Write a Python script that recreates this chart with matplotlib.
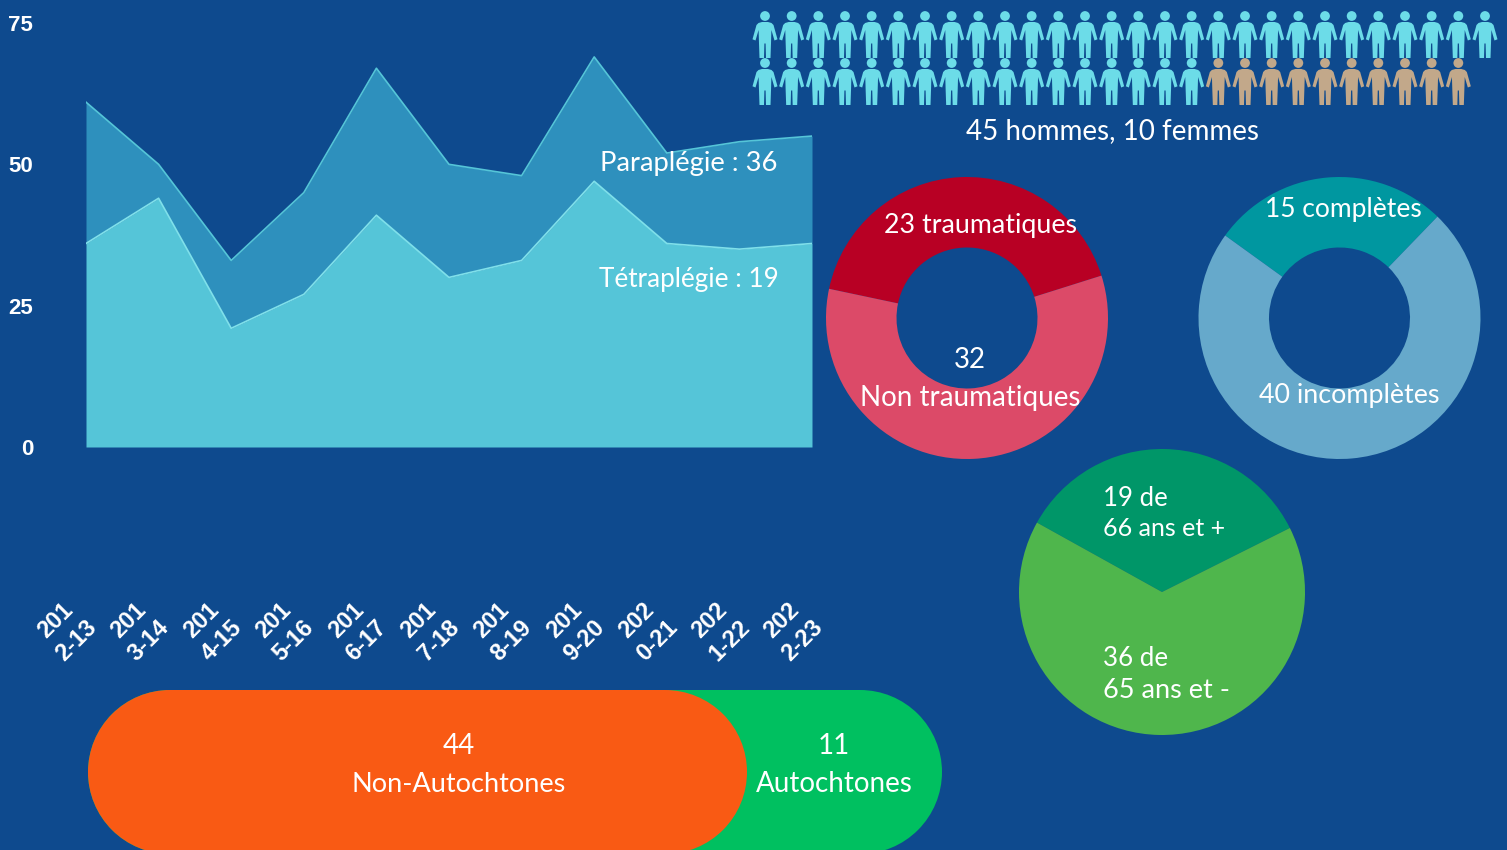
import numpy as np
import matplotlib
matplotlib.use('Agg')
import matplotlib.pyplot as plt
from matplotlib.patches import Circle, Rectangle
from matplotlib.path import Path
from matplotlib.transforms import ScaledTranslation

W, H = 1507, 850
BG = '#0e4a8e'

saisons = ['201\n2-13', '201\n3-14', '201\n4-15', '201\n5-16', '201\n6-17', '201\n7-18',
           '201\n8-19', '201\n9-20', '202\n0-21', '202\n1-22', '202\n2-23']
tetraplegie = [36, 44, 21, 27, 41, 30, 33, 47, 36, 35, 36]
paraplegie = [25, 6, 12, 18, 26, 20, 15, 22, 16, 19, 19]
y_ticks = [0, 25, 50, 75]

hommes = 45
femmes = 10
personnes_rang1 = 28

origine = [23, 32]
atteinte = [15, 40]
age = [19, 36]
autochtones = [44, 11]

plt.rcParams['font.family'] = ['Lato', 'DejaVu Sans']

fig = plt.figure(figsize=(W / 100, H / 100), dpi=100, facecolor=BG)


def axes_px(x0, y0, x1, y1):
    ax = fig.add_axes([x0 / W, 1 - y1 / H, (x1 - x0) / W, (y1 - y0) / H])
    ax.patch.set_alpha(0)
    return ax


def label(x, y, s, size=20, ha='center'):
    fig.text(x / W, 1 - (y + 2) / H, s, color='white', fontsize=size, ha=ha, va='center', zorder=10)


# aires empilees
ax = axes_px(86, 23, 812, 447)
x = np.arange(len(saisons))
total = np.array(tetraplegie) + np.array(paraplegie)
ax.fill_between(x, tetraplegie, total, color='#2e90bd', lw=0)
ax.fill_between(x, 0, tetraplegie, color='#55c5d8', lw=0)
ax.plot(x, total, color='#55c5d8', lw=1.2)
ax.plot(x, tetraplegie, color='#7fe0ea', lw=1.2)
ax.set_xlim(0, len(saisons) - 1)
ax.set_ylim(0, 75)
for s in ax.spines.values():
    s.set_visible(False)
ax.set_yticks(y_ticks)
ax.set_xticks(x, saisons, rotation=45, ha='center', va='center', linespacing=1.3)
ax.tick_params(axis='y', length=0, pad=38, labelcolor='white')
ax.tick_params(axis='x', length=0, pad=132, labelcolor='white')
for t in ax.get_yticklabels():
    t.set_fontfamily('Liberation Sans')
    t.set_fontweight('bold')
    t.set_fontsize(16)
decal = ScaledTranslation(-20 / 100, 0, fig.dpi_scale_trans)
for t in ax.get_xticklabels():
    t.set_fontfamily('Liberation Sans')
    t.set_fontweight('bold')
    t.set_fontsize(17)
    t.set_transform(t.get_transform() + decal)

# pictogrammes
demi = [(0, 12.5), (3, 12.5), (6.5, 11.5), (8.5, 9.5), (12.5, -4.8), (9.5, -6), (6.4, 4.5), (6, -9),
        (5.5, -23.5), (1, -23.5), (0.6, -9)]
corps = demi + [(-a, b) for a, b in demi[::-1][:-1]] + [demi[0]]
tete = Path.circle((0, 18.5), 4.9)
perso = Path.make_compound_path(Path(corps, closed=True), tete)

ax = axes_px(765, 11, 1485, 105)
n = hommes + femmes
idx = np.arange(n)
rang = idx // personnes_rang1
col = idx % personnes_rang1
couleurs = ['#6cdce8'] * hommes + ['#c2a88a'] * femmes
ax.scatter(col, rang, marker=perso, s=1145, c=couleurs, linewidths=0, clip_on=False)
ax.set_xlim(0, personnes_rang1 - 1)
ax.set_ylim(1.5, -0.5)
ax.axis('off')


def camembert(cx, cy, r, valeurs, couleurs, depart, largeur=None):
    ax = axes_px(cx - r, cy - r, cx + r, cy + r)
    props = {'linewidth': 0}
    if largeur:
        props['width'] = largeur
    ax.pie(valeurs, colors=couleurs, startangle=depart, radius=1, wedgeprops=props)
    ax.set_xlim(-1, 1)
    ax.set_ylim(-1, 1)


camembert(967, 318, 141, origine, ['#b80024', '#dc4a68'], 17.5, 0.5)
camembert(1339.5, 318, 141, atteinte, ['#0097a0', '#66a9cb'], 46, 0.5)
camembert(1162, 592, 143, age, ['#009668', '#4fb64c'], 26.6)

# barre arrondie
echelle = 195 / autochtones[1]
debut = (88 + 33) / echelle
ax = axes_px(-33, 690, 942, 854)
ax.set_xlim(0, sum(autochtones))
haut = 164 / echelle
ax.set_ylim(0, haut)
ax.axis('off')
rayon = haut / 2
for fin, c in [(sum(autochtones), '#00c060'), (autochtones[0], '#f95a14')]:
    ax.add_patch(Rectangle((debut + rayon, 0), fin - debut - 2 * rayon, haut, linewidth=0, facecolor=c))
    ax.add_patch(Circle((debut + rayon, rayon), rayon, linewidth=0, facecolor=c))
    ax.add_patch(Circle((fin - rayon, rayon), rayon, linewidth=0, facecolor=c))

label(1113, 129, f'{hommes} hommes, {femmes} femmes', 20)
label(689, 161, f'Paraplégie : {tetraplegie[-1]}', 19.7)
label(689, 277, f'Tétraplégie : {paraplegie[-1]}', 18.8)
label(980, 224, f'{origine[0]} traumatiques', 19.3)
label(970, 358, f'{origine[1]}')
label(970, 396, 'Non traumatiques')
label(1343, 207, f'{atteinte[0]} complètes', 19)
label(1349, 393, f'{atteinte[1]} incomplètes', 19.4)
label(1103, 496, f'{age[0]} de', 18.5, ha='left')
label(1103, 526, '66 ans et +', 18, ha='left')
label(1103, 657, f'{age[1]} de', 18.6, ha='left')
label(1103, 688, '65 ans et -', 19.5, ha='left')
label(459, 744, f'{autochtones[0]}')
label(459, 782, 'Non-Autochtones', 19.5)
label(834, 744, f'{autochtones[1]}')
label(834, 782, 'Autochtones')

fig.savefig('out.png', dpi=100, facecolor=BG)
